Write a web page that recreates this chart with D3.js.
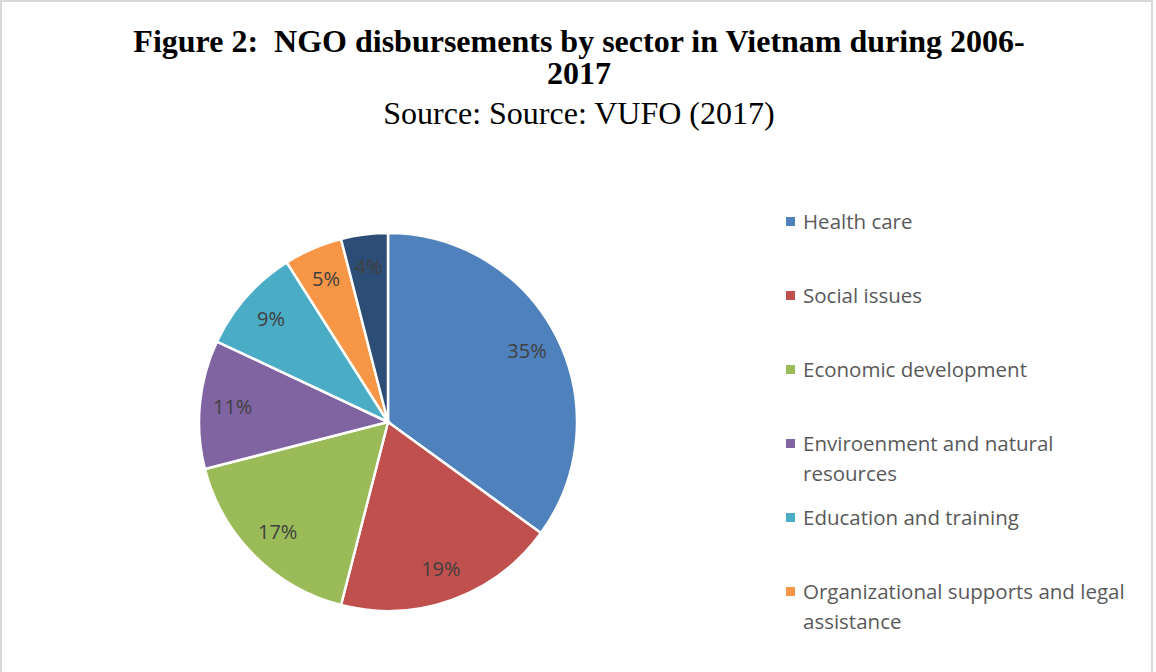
<!DOCTYPE html>
<meta charset="utf-8">
<script src="https://d3js.org/d3.v7.min.js"></script>
<style>
  body { margin: 0; background: #fff; }
</style>
<div id="chart"></div>
<script>

// sectors and their share of disbursements (%)
var sectors = ["Health care", "Social issues", "Economic development",
  "Enviroenment and natural resources", "Education and training",
  "Organizational supports and legal assistance", "Others"];
var shares = [35, 19, 17, 11, 9, 5, 4];
var colors = ["#4F81BD", "#C0504D", "#9BBB59", "#8064A2", "#4BACC6", "#F79646", "#2C4D75"];

// legend lines as wrapped in the picture; the last entry is cut off there
var legendLines = [["Health care"], ["Social issues"], ["Economic development"],
  ["Enviroenment and natural", "resources"], ["Education and training"],
  ["Organizational supports and legal", "assistance"]];

var titleLines = ["Figure 2:  NGO disbursements by sector in Vietnam during 2006-", "2017"];
var subtitle = "Source: Source: VUFO (2017)";

var width = 1156, height = 672;

var svg = d3.select("#chart")
  .append("svg")
    .attr("width", width)
    .attr("height", height);

// chart frame
svg.append("rect")
  .attr("x", 1).attr("y", 1)
  .attr("width", 1151).attr("height", 700)
  .attr("fill", "none")
  .attr("stroke", "#d9d9d9")
  .attr("stroke-width", 2);

// title
svg.selectAll(".title")
  .data(titleLines)
  .enter()
  .append("text")
    .attr("class", "title")
    .attr("x", 579)
    .attr("y", function(d, i) { return 52 + i * 32; })
    .attr("text-anchor", "middle")
    .style("white-space", "pre")
    .style("font-family", "'Liberation Serif', 'Times New Roman', serif")
    .style("font-weight", "bold")
    .style("font-size", "32px")
    .text(function(d) { return d; });

svg.append("text")
  .attr("x", 579)
  .attr("y", 124)
  .attr("text-anchor", "middle")
  .style("font-family", "'Liberation Serif', 'Times New Roman', serif")
  .style("font-size", "32px")
  .text(subtitle);

// pie
var data = sectors.map(function(s, i) { return {name: s, value: shares[i], color: colors[i]}; });
var radius = 189;

var pie = d3.pie()
  .sort(null)
  .value(function(d) { return d.value; });

var arc = d3.arc().innerRadius(0).outerRadius(radius);
var labelArc = d3.arc().innerRadius(156).outerRadius(156);

var g = svg.append("g")
  .attr("transform", "translate(388,422)");

g.selectAll("path")
  .data(pie(data))
  .enter()
  .append("path")
    .attr("d", arc)
    .attr("fill", function(d) { return d.data.color; })
    .attr("stroke", "#fff")
    .attr("stroke-width", 2.5);

g.selectAll(".lbl")
  .data(pie(data))
  .enter()
  .append("text")
    .attr("class", "lbl")
    .attr("transform", function(d) { return "translate(" + labelArc.centroid(d) + ")"; })
    .attr("text-anchor", "middle")
    .attr("dy", "0.35em")
    .style("font-family", "'Open Sans', sans-serif")
    .style("font-size", "20px")
    .style("fill", "#404040")
    .text(function(d) { return d.data.value + "%"; });

// legend
var legend = svg.append("g")
  .attr("transform", "translate(786,222)");

var item = legend.selectAll(".item")
  .data(legendLines)
  .enter()
  .append("g")
    .attr("class", "item")
    .attr("transform", function(d, i) { return "translate(0," + i * 74 + ")"; });

item.append("rect")
  .attr("x", 0).attr("y", -5)
  .attr("width", 9).attr("height", 9)
  .attr("fill", function(d, i) { return colors[i]; });

item.selectAll("text")
  .data(function(d) { return d; })
  .enter()
  .append("text")
    .attr("x", 17)
    .attr("y", function(d, j) { return j * 30; })
    .attr("dy", "0.35em")
    .style("font-family", "'Open Sans', sans-serif")
    .style("font-size", "20.5px")
    .style("fill", "#595959")
    .text(function(d) { return d; });

</script>
